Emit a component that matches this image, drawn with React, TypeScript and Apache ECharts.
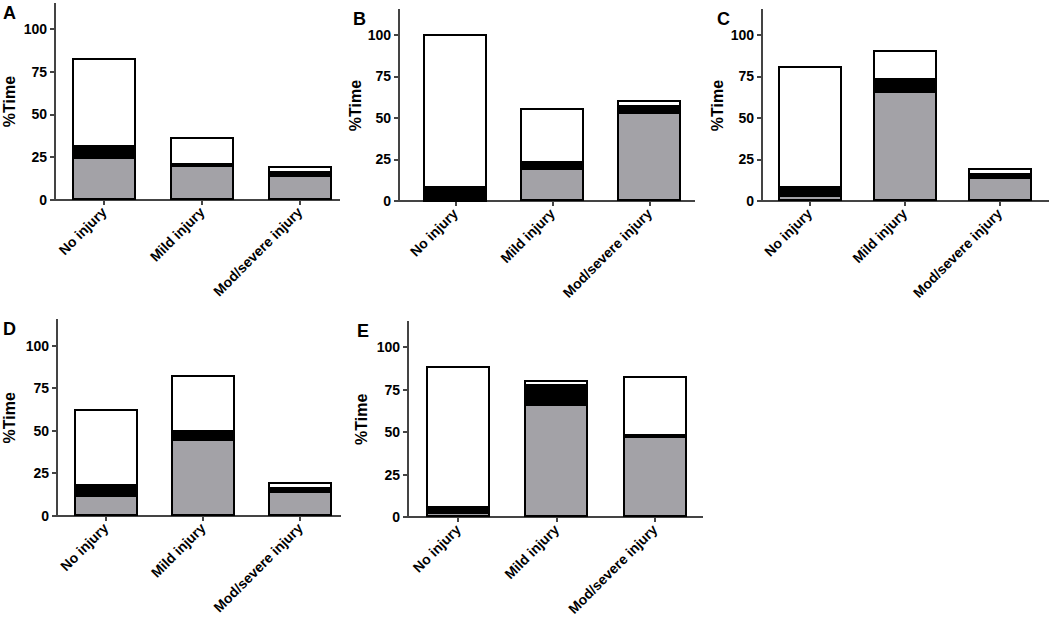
import React, { useEffect, useRef } from "react";
import * as echarts from "echarts";

const categories = ["No injury", "Mild injury", "Mod/severe injury"];
const panelNames = ["A", "B", "C", "D", "E"];
const yTickValues = [0, 25, 50, 75, 100];
const yAxisTitle = "%Time";

// segment values (stacked): grey bottom, black middle, white top
const greyA = [24.7, 20.0, 14.2];
const blackA = [5.9, 0.3, 1.4];
const whiteA = [52.7, 16.4, 4.3];

const greyB = [0, 19.6, 53.5];
const blackB = [7.6, 3.4, 3.0];
const whiteB = [93.1, 32.9, 4.2];

const greyC = [3.8, 66.1, 14.2];
const blackC = [4.0, 6.6, 1.4];
const whiteC = [73.5, 18.1, 4.3];

const greyD = [11.8, 44.9, 14.2];
const blackD = [5.6, 4.1, 1.4];
const whiteD = [45.1, 33.5, 4.3];

const greyE = [2.8, 66.5, 47.5];
const blackE = [2.7, 10.8, 0.1];
const whiteE = [83.1, 3.5, 35.3];

const panelData = [
  [greyA, blackA, whiteA],
  [greyB, blackB, whiteB],
  [greyC, blackC, whiteC],
  [greyD, blackD, whiteD],
  [greyE, blackE, whiteE],
];

// layout (pixels) and axis extents per panel
const layout = [
  { left: 55, top: 3.5, width: 284, height: 196, xMin: -0.5, xMax: 2.4, nameGap: 38, letterX: 3, letterY: 4 },
  { left: 399, top: 10, width: 295, height: 191, xMin: -0.58, xMax: 2.46, nameGap: 29, letterX: 353, letterY: 10 },
  { left: 762, top: 10, width: 286, height: 191, xMin: -0.5, xMax: 2.51, nameGap: 37, letterX: 717, letterY: 10 },
  { left: 55, top: 320, width: 285, height: 195.5, xMin: -0.5, xMax: 2.41, nameGap: 40, letterX: 3, letterY: 320 },
  { left: 408, top: 321.5, width: 294, height: 195.5, xMin: -0.51, xMax: 2.48, nameGap: 39, letterX: 357, letterY: 322 },
];

const FONT = "'Liberation Sans', Arial, sans-serif";
const segColors = ["#a3a2a7", "#000000", "#ffffff"];
const segBorders = [2, 0, 2];

export default function App() {
  const ref = useRef<HTMLDivElement>(null);
  useEffect(() => {
    if (!ref.current) return;
    const chart = echarts.init(ref.current, null, { renderer: "svg" });
    const grid: any[] = [];
    const xAxis: any[] = [];
    const yAxis: any[] = [];
    const series: any[] = [];
    const title: any[] = [];
    layout.forEach((l, p) => {
      grid.push({ left: l.left, top: l.top, width: l.width, height: l.height, containLabel: false });
      xAxis.push({
        type: "value",
        gridIndex: p,
        min: l.xMin,
        max: l.xMax,
        splitLine: { show: false },
        axisLine: { show: true, onZero: false, lineStyle: { color: "#444", width: 1.5 } },
        axisTick: { show: true, customValues: [0, 1, 2], length: 5, lineStyle: { color: "#444", width: 1.5 } },
        axisLabel: {
          show: true,
          customValues: [0, 1, 2],
          formatter: (v: number) => categories[Math.round(v)] ?? "",
          rotate: 45,
          margin: 10,
          color: "#000",
          fontFamily: FONT,
          fontWeight: "bold",
          fontSize: 14,
        },
      });
      yAxis.push({
        type: "value",
        gridIndex: p,
        min: 0,
        max: 115,
        interval: 25,
        name: yAxisTitle,
        nameLocation: "middle",
        nameGap: l.nameGap,
        nameTextStyle: { color: "#000", fontFamily: FONT, fontWeight: "bold", fontSize: 16 },
        splitLine: { show: false },
        axisLine: { show: true, onZero: false, lineStyle: { color: "#444", width: 1.5 } },
        axisTick: { show: true, customValues: yTickValues, length: 5, lineStyle: { color: "#444", width: 1.5 } },
        axisLabel: {
          customValues: yTickValues,
          margin: 8,
          color: "#000",
          fontFamily: FONT,
          fontWeight: "bold",
          fontSize: 14,
        },
      });
      panelData[p].forEach((seg, s) => {
        series.push({
          type: "bar",
          xAxisIndex: p,
          yAxisIndex: p,
          stack: "s" + p,
          barWidth: 64,
          // value first so that the stacked dimension is the y value
          data: seg.map((v, i) => [v, i]),
          encode: { x: 1, y: 0 },
          itemStyle: { color: segColors[s], borderColor: "#000", borderWidth: segBorders[s] },
          emphasis: { disabled: true },
        });
      });
      title.push({
        text: panelNames[p],
        left: l.letterX,
        top: l.letterY,
        padding: 0,
        textStyle: { color: "#000", fontFamily: FONT, fontWeight: "bold", fontSize: 18 },
      });
    });
    chart.setOption({
      animation: false,
      backgroundColor: "#fff",
      title,
      grid,
      xAxis,
      yAxis,
      series,
    });
    return () => chart.dispose();
  }, []);
  return (
    <>
      <style>{`#chartbox svg path { shape-rendering: crispEdges; }`}</style>
      <div
        id="chartbox"
        ref={ref}
        style={{ position: "absolute", left: 0, top: 0, width: 1050, height: 626 }}
      />
    </>
  );
}
